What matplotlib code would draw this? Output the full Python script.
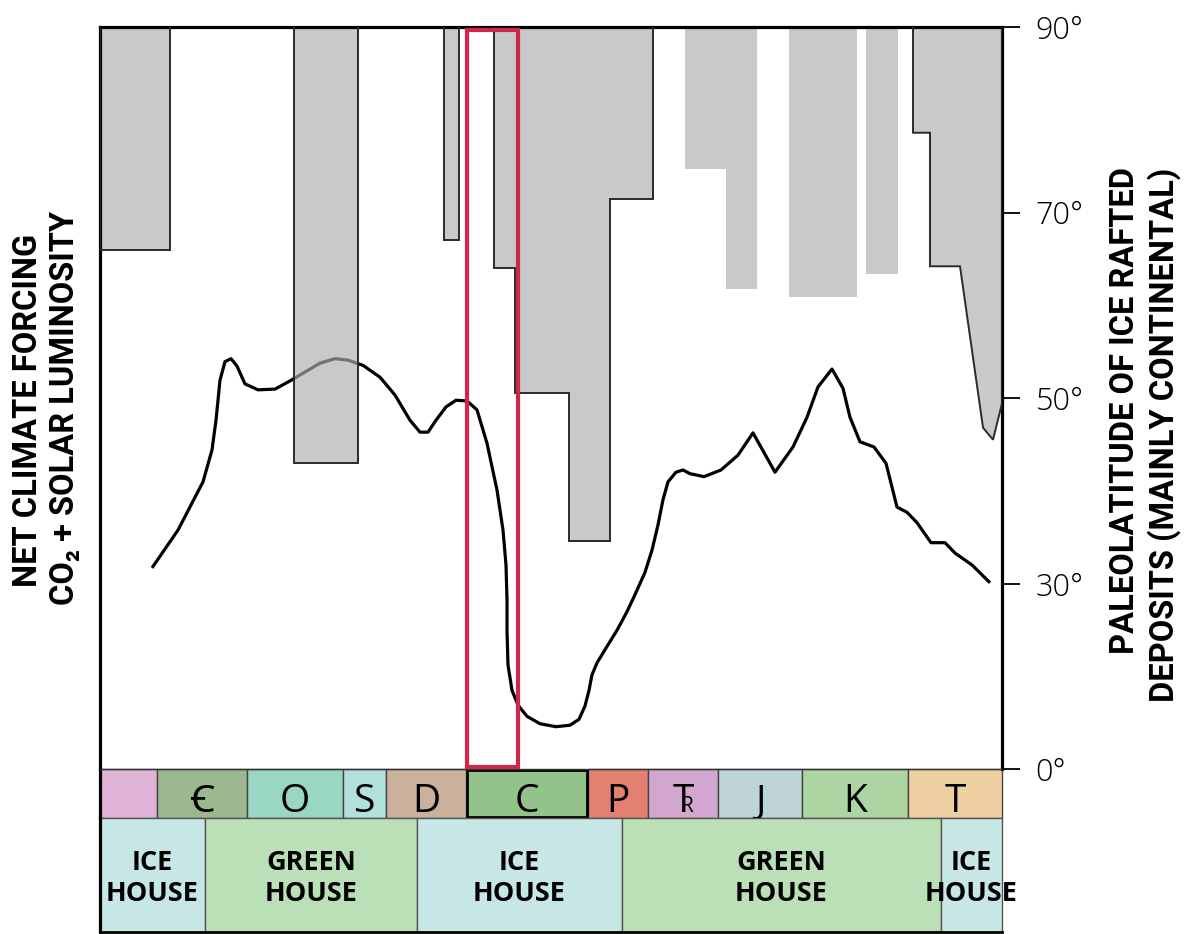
import matplotlib
matplotlib.use("Agg")
import numpy as np
import matplotlib.pyplot as plt
from matplotlib.patches import Rectangle, Polygon

# ---------------- data ----------------
# horizontal position along the time line (arbitrary units, 0 = left, 902 = right)
period_edges = [0, 57, 147, 243, 286, 366, 488, 548, 618, 702, 808, 902]
period_labels = ["", "Ꞓ", "O", "S", "D", "C", "P", "T", "J", "K", "T"]
period_colors = ["#dfb3d5", "#9cb891", "#9ad6c4", "#b2e0dd", "#cbb09e", "#93c38a",
                 "#e4806f", "#d3a6cf", "#bfd4d6", "#acd5a1", "#efd0a2"]

regime_edges = [0, 105, 317, 522, 841, 902]
regime_labels = ["ICE\nHOUSE", "GREEN\nHOUSE", "ICE\nHOUSE", "GREEN\nHOUSE", "ICE\nHOUSE"]
regime_colors = ["#c7e6e6", "#bbdfb7", "#c7e6e6", "#bbdfb7", "#c7e6e6"]

# ice-rafted deposit blocks: step edges and bottom paleolatitude (deg)
dep1_edges, dep1_lat = [0, 70], [66.0]
dep2_edges, dep2_lat = [194, 258], [43.0]
dep3_edges, dep3_lat = [344, 359], [67.0]
dep4_edges, dep4_lat = [394, 415, 469, 510, 553], [64.0, 50.5, 34.6, 71.5]
dep5_edges, dep5_lat = [585, 626, 657], [74.7, 61.8]
dep6_edges, dep6_lat = [689, 757], [60.9]
dep7_edges, dep7_lat = [766, 798], [63.4]
dep8_x = [813, 830, 830, 860, 883, 893, 902]
dep8_lat = [78.6, 78.6, 64.2, 64.2, 46.8, 45.5, 49.4]

# net climate forcing (CO2 + solar luminosity), relative units 0-100
forcing_x = [52, 78, 103, 112, 116, 120, 125, 131, 137, 145, 158, 175, 190, 205, 220,
             235, 248, 263, 280, 295, 310, 320, 328, 336, 346, 356, 367, 377, 387, 397,
             403, 406, 407, 407, 408, 412, 418, 427, 440, 456, 470, 479, 485, 489, 492,
             497, 506, 517, 527, 535, 545, 552, 558, 563, 568, 576, 583, 590, 604, 621,
             638, 653, 675, 693, 707, 718, 732, 743, 750, 760, 774, 786, 797, 807, 817,
             831, 845, 855, 872, 890]
forcing_y = [27.1, 32.2, 38.7, 43.0, 47.0, 52.4, 54.9, 55.3, 54.3, 51.9, 51.1, 51.2,
             52.3, 53.5, 54.7, 55.3, 55.1, 54.4, 52.8, 50.4, 47.0, 45.4, 45.4, 47.0,
             48.8, 49.7, 49.6, 48.4, 43.9, 37.6, 32.2, 27.5, 22.8, 18.7, 14.0, 10.6,
             8.6, 7.1, 6.1, 5.7, 5.9, 6.7, 8.5, 10.6, 12.7, 14.3, 16.3, 18.7, 21.2,
             23.5, 26.5, 29.5, 32.9, 36.3, 38.7, 40.0, 40.3, 39.8, 39.4, 40.3, 42.3,
             45.3, 40.0, 43.4, 47.4, 51.5, 53.9, 51.3, 47.4, 44.1, 43.4, 41.2, 35.3,
             34.6, 33.2, 30.5, 30.5, 29.1, 27.5, 25.1]

lat_ticks = [0, 30, 50, 70, 90]
lat_ticklabels = ["0°", "30°", "50°", "70°", "90°"]
highlight_span = [366.5, 418]   # Carboniferous highlight box

# ---------------- helpers ----------------
def fwd(lat):
    lat = np.asarray(lat, dtype=float)
    return np.where(lat < 30, lat / 30.0, 1.0 + (lat - 30.0) / 20.0)

def inv(p):
    p = np.asarray(p, dtype=float)
    return np.where(p < 1, p * 30.0, 30.0 + (p - 1.0) * 20.0)

def step_profile(edges, lats):
    xs, ys = [], []
    for i, lat in enumerate(lats):
        xs += [edges[i], edges[i + 1]]
        ys += [lat, lat]
    return xs, ys

W, H = 1185, 934
fig = plt.figure(figsize=(W / 100, H / 100), dpi=100)
fig.patch.set_facecolor("white")

L, R = 100 / W, 1002 / W
main_rect = [L, 1 - 769 / H, R - L, (769 - 27) / H]

# forcing curve axes (below the deposit layer)
ax2 = fig.add_axes(main_rect, zorder=0)
ax2.set_xlim(0, 902)
ax2.set_ylim(0, 100)
ax2.axis("off")
ax2.plot(forcing_x, forcing_y, color="black", lw=2.3, solid_joinstyle="round",
         solid_capstyle="butt")

ax = fig.add_axes(main_rect, zorder=1)
ax.patch.set_alpha(0)
ax.set_xlim(0, 902)
ax.set_yscale("function", functions=(fwd, inv))
ax.set_ylim(0, 90)

fill_rgb = (172 / 255, 174 / 255, 177 / 255)
fill_alpha = 0.666

blocks = [
    (step_profile(dep1_edges, dep1_lat), True),
    (step_profile(dep2_edges, dep2_lat), True),
    (step_profile(dep3_edges, dep3_lat), True),
    (step_profile(dep4_edges, dep4_lat), True),
    (step_profile(dep5_edges, dep5_lat), False),
    (step_profile(dep6_edges, dep6_lat), False),
    (step_profile(dep7_edges, dep7_lat), False),
    ((dep8_x, dep8_lat), True),
]
for (xs, ys), outlined in blocks:
    verts = [(xs[0], 90)] + list(zip(xs, ys)) + [(xs[-1], 90)]
    ax.add_patch(Polygon(verts, closed=True, facecolor=fill_rgb, alpha=fill_alpha,
                         edgecolor="none", zorder=2))
    if outlined:
        vx = [v[0] for v in verts]
        vy = [v[1] for v in verts]
        ax.plot(vx, vy, color="#2a2a2a", lw=1.4, zorder=3, solid_joinstyle="miter")

# highlight rectangle
ax.add_patch(Rectangle((highlight_span[0], 0.003), highlight_span[1] - highlight_span[0], 0.993,
                       transform=ax.get_xaxis_transform(), fill=False,
                       edgecolor="#d0264c", lw=3.0, zorder=10, clip_on=False))

for s in ["left", "top", "right"]:
    ax.spines[s].set_linewidth(2.3)
    ax.spines[s].set_color("black")
ax.spines["bottom"].set_linewidth(1.0)
ax.spines["bottom"].set_color("#333333")
ax.set_xticks([])
ax.yaxis.tick_right()
ax.set_yticks(lat_ticks)
ax.set_yticklabels(lat_ticklabels)
ax.yaxis.set_minor_locator(matplotlib.ticker.NullLocator())
ax.tick_params(axis="y", which="major", direction="out", length=13, width=1.3,
               pad=11, labelsize=22, colors="black")
for t in ax.get_yticklabels():
    t.set_fontfamily(["Open Sans", "DejaVu Sans"])
    t.set_fontweight("light")

# ---------------- period strip ----------------
axp = fig.add_axes([L, 1 - 818 / H, R - L, 49 / H])
axp.set_xlim(0, 902)
axp.set_ylim(0, 1)
axp.axis("off")
sym_font = ["Open Sans", "Noto Sans", "DejaVu Sans"]
for i, (lab, col) in enumerate(zip(period_labels, period_colors)):
    x0, x1 = period_edges[i], period_edges[i + 1]
    if lab == "C":
        axp.add_patch(Rectangle((x0, 0), x1 - x0, 1, facecolor=col, edgecolor="none"))
        axp.add_patch(Rectangle((x0 + 1, 0.03), x1 - x0 - 2, 0.94, facecolor="none",
                                edgecolor="black", lw=2.0, zorder=5, clip_on=False))
    else:
        axp.add_patch(Rectangle((x0, 0), x1 - x0, 1, facecolor=col, edgecolor="#444444",
                                lw=1.0, clip_on=False))
    xc = (x0 + x1) / 2
    if i == 7:
        axp.text(xc, 0.12, "T", ha="center", va="baseline", fontsize=28, family=sym_font)
        axp.text(xc + 4.5, 0.12, "R", ha="center", va="baseline", fontsize=15,
                 family=sym_font)
    elif lab:
        axp.text(xc, 0.12, lab, ha="center", va="baseline", fontsize=28, family=sym_font)

# ---------------- regime strip ----------------
axr = fig.add_axes([L, 1 - 932 / H, R - L, 114 / H])
axr.set_xlim(0, 902)
axr.set_ylim(0, 1)
axr.axis("off")
for i, (lab, col) in enumerate(zip(regime_labels, regime_colors)):
    x0, x1 = regime_edges[i], regime_edges[i + 1]
    axr.add_patch(Rectangle((x0, 0), x1 - x0, 1, facecolor=col, edgecolor="#555555",
                            lw=1.0, clip_on=False))
    axr.text((x0 + x1) / 2, 0.47, lab, ha="center", va="center", fontsize=19.5,
             fontweight="bold", linespacing=1.28, family=["Open Sans", "DejaVu Sans"],
             clip_on=False)
axr.plot([0, 0], [0, 1], color="black", lw=2.3, clip_on=False)
axr.plot([0, 902], [0, 0], color="black", lw=2.0, clip_on=False)
axp.plot([0, 0], [0, 1], color="black", lw=2.3, clip_on=False)

# ---------------- axis titles ----------------
lab_font = ["Roboto", "DejaVu Sans"]
lab_size = 23.5
fig.text(28 / W, 1 - 410 / H, "NET CLIMATE FORCING", rotation=90, ha="center",
         va="center", fontsize=lab_size, fontweight="bold", family=lab_font)
fig.text(65 / W, 1 - 408 / H, "CO₂ + SOLAR LUMINOSITY", rotation=90, ha="center",
         va="center", fontsize=lab_size, fontweight="bold", family=lab_font)
fig.text(1125 / W, 1 - 410 / H, "PALEOLATITUDE OF ICE RAFTED", rotation=90, ha="center",
         va="center", fontsize=lab_size, fontweight="bold", family=lab_font)
fig.text(1164 / W, 1 - 435 / H, "DEPOSITS (MAINLY CONTINENTAL)", rotation=90, ha="center",
         va="center", fontsize=lab_size, fontweight="bold", family=lab_font)

fig.savefig("out.png", dpi=100, facecolor="white")
